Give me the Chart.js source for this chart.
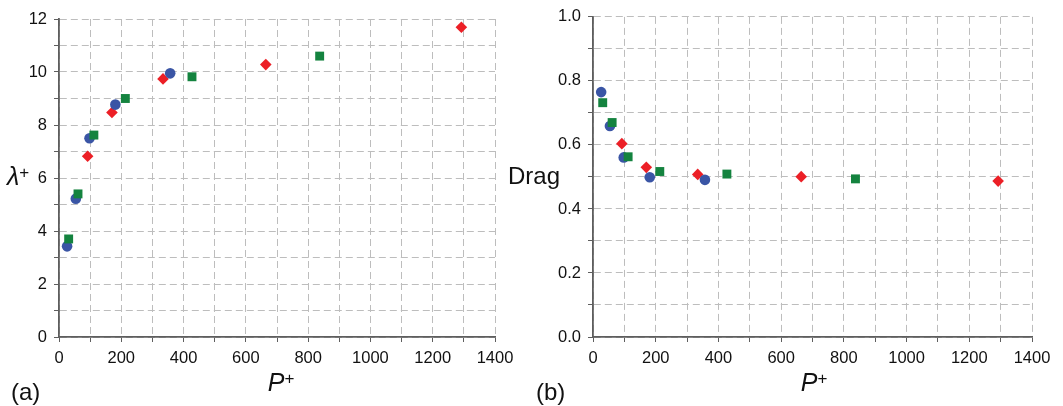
<!DOCTYPE html>
<html>
<head>
<meta charset="utf-8">
<script src="https://cdn.jsdelivr.net/npm/chart.js@4/dist/chart.umd.min.js"></script>
<style>
  html, body { margin: 0; padding: 0; background: #fff; width: 1063px; height: 406px; overflow: hidden; }
  .box { position: absolute; top: 0; }
  .lbl { position: absolute; font-family: 'Liberation Sans', Arial, sans-serif; color: #111; white-space: nowrap; }
  .sup { font-size: 17px; position: relative; top: -7px; }
</style>
</head>
<body>
<div class="box" style="left:0;width:530px;height:406px;"><canvas id="cA" width="530" height="406"></canvas></div>
<div class="box" style="left:530px;width:533px;height:406px;"><canvas id="cB" width="533" height="406"></canvas></div>

<div class="lbl" style="left:7px;top:162px;font-size:25px;line-height:28px;"><span style="font-style:italic;">λ</span><span class="sup">+</span></div>
<div class="lbl" style="left:508px;top:162px;font-size:24px;line-height:28px;">Drag</div>
<div class="lbl" style="left:181px;top:368px;width:200px;text-align:center;font-size:25px;line-height:28px;"><span style="font-style:italic;">P</span><span class="sup">+</span></div>
<div class="lbl" style="left:714px;top:368px;width:200px;text-align:center;font-size:25px;line-height:28px;"><span style="font-style:italic;">P</span><span class="sup">+</span></div>
<div class="lbl" style="left:11px;top:378px;font-size:24px;line-height:28px;">(a)</div>
<div class="lbl" style="left:536px;top:378px;font-size:24px;line-height:28px;">(b)</div>

<script>
// ---- data ----
const xTickLabels = [0, 200, 400, 600, 800, 1000, 1200, 1400];
const lambdaTickLabels = [0, 2, 4, 6, 8, 10, 12];
const dragTickLabels = ['0.0', '0.2', '0.4', '0.6', '0.8', '1.0'];

const blueX = [26, 54, 98, 181, 357];
const blueLambda = [3.42, 5.22, 7.50, 8.77, 9.95];
const blueDrag = [0.765, 0.659, 0.561, 0.499, 0.491];

const greenX = [31, 61, 112, 213, 427, 837];
const greenLambda = [3.70, 5.40, 7.62, 9.00, 9.82, 10.60];
const greenDrag = [0.732, 0.670, 0.563, 0.517, 0.509, 0.494];

const redX = [92, 170, 334, 664, 1292];
const redLambda = [6.82, 8.47, 9.74, 10.28, 11.69];
const redDrag = [0.604, 0.530, 0.508, 0.501, 0.487];

// ---- styling ----
const BLUE = '#3a55a5', GREEN = '#14833f', RED = '#ec1f26';
const FONT = "'Liberation Sans', Arial, sans-serif";
const AXIS = '#5e5e5e', GRID = '#bdbdbd';

function pts(xs, ys) { return xs.map((x, i) => ({ x: x, y: ys[i] })); }

function datasets(gY, bY, rY) {
  return [
    { label: 'green', data: pts(greenX, gY), pointStyle: 'rect', pointRadius: 6.3, backgroundColor: GREEN, borderColor: GREEN, borderWidth: 0 },
    { label: 'blue', data: pts(blueX, bY), pointStyle: 'circle', pointRadius: 5.3, backgroundColor: BLUE, borderColor: BLUE, borderWidth: 0 },
    { label: 'red', data: pts(redX, rY), pointStyle: 'rectRot', pointRadius: 5.8, backgroundColor: RED, borderColor: RED, borderWidth: 0 }
  ];
}

function makeChart(id, yMax, yStep, yLabels, yFmt, yWidth, pad, gY, bY, rY) {
  return new Chart(document.getElementById(id), {
    type: 'scatter',
    data: { datasets: datasets(gY, bY, rY) },
    options: {
      responsive: false,
      animation: false,
      devicePixelRatio: 1,
      layout: { padding: pad },
      plugins: { legend: { display: false }, tooltip: { enabled: false } },
      scales: {
        x: {
          type: 'linear', min: 0, max: 1400,
          afterFit: s => { s.height = 69; },
          ticks: {
            stepSize: 100, autoSkip: false, maxRotation: 0, padding: 7,
            color: '#111', font: { family: FONT, size: 16.5 },
            callback: v => xTickLabels.includes(v) ? String(v) : ''
          },
          grid: { color: GRID, lineWidth: 1, tickColor: AXIS, tickLength: 5, tickWidth: 1 },
          border: { display: true, color: AXIS, width: 1.8, dash: [7, 4] },
          title: { display: false }
        },
        y: {
          type: 'linear', min: 0, max: yMax,
          afterFit: s => { s.width = yWidth; },
          afterBuildTicks: s => { s.ticks = []; for (let i = 0; i <= Math.round(yMax / yStep); i++) s.ticks.push({ value: +(i * yStep).toFixed(3) }); },
          ticks: {
            autoSkip: false, padding: 7,
            color: '#111', font: { family: FONT, size: 16.5 },
            callback: v => { const t = yFmt(v); return yLabels.includes(t) ? t : ''; }
          },
          grid: { color: GRID, lineWidth: 1, tickColor: AXIS, tickLength: 5, tickWidth: 1 },
          border: { display: true, color: AXIS, width: 1.8, dash: [7, 4] }
        }
      }
    }
  });
}

makeChart('cA', 12, 1, lambdaTickLabels.map(String), v => String(Math.round(v)), 59,
  { left: 0, right: 35, top: 19, bottom: 0 }, greenLambda, blueLambda, redLambda);
makeChart('cB', 1, 0.1, dragTickLabels, v => v.toFixed(1), 63,
  { left: 0, right: 31, top: 15, bottom: 0 }, greenDrag, blueDrag, redDrag);
</script>
</body>
</html>
